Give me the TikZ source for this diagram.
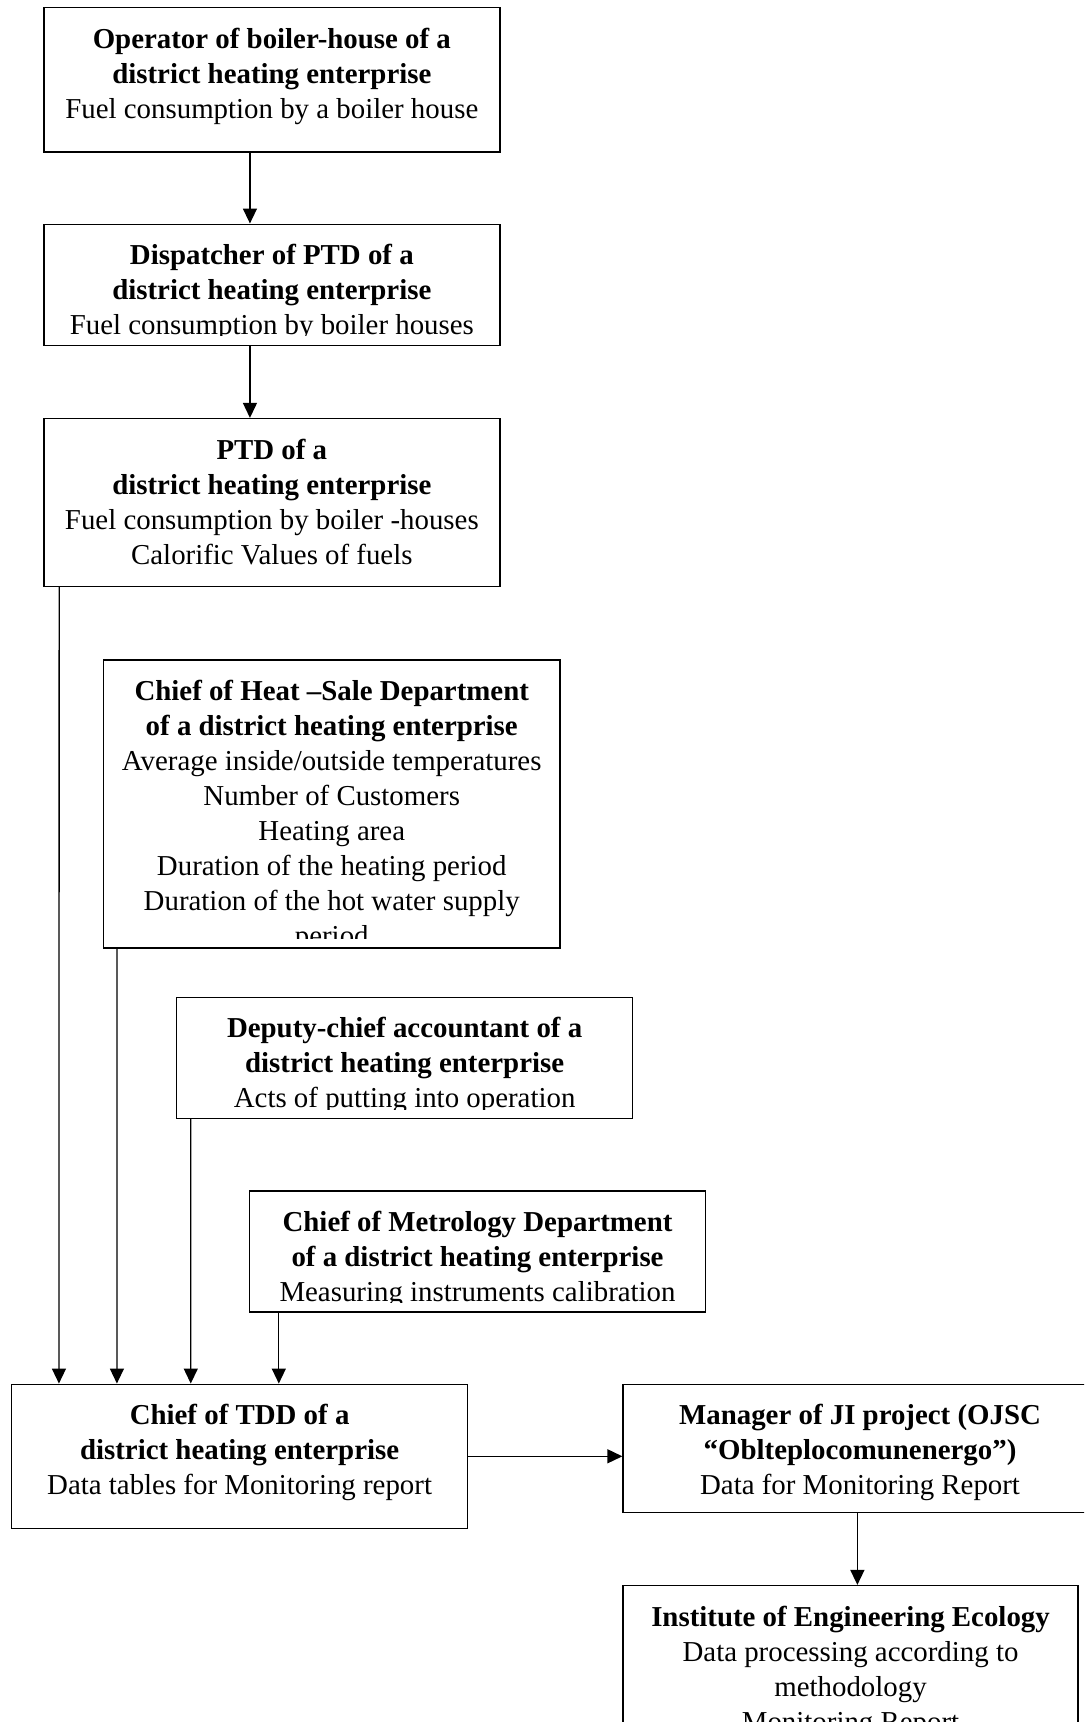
\documentclass[tikz,border=0pt]{standalone}
\usepackage{fontspec}
\setmainfont{Liberation Serif}
\usetikzlibrary{positioning}
\usetikzlibrary{arrows.meta}

\begin{document}
\begin{tikzpicture}[line width=0.55pt,
  box/.style={draw,line width=0.6pt,minimum width=189.6pt,minimum height=#1,inner sep=0pt},
  txt/.style={align=center,inner sep=0pt,font=\fontsize{12}{14.55}\selectfont},
  arr/.style={-{Triangle[length=6.2pt,width=5.8pt]}}]
  \useasboundingbox (0,0) rectangle (450.6pt,-715.8pt);
  \clip (0,0) rectangle (450.6pt,-715.8pt);

  % frames
  \node[box=59.9pt,anchor=north west]  (oper)   at (17.9pt,-2.9pt) {};
  \node[box=50.3pt,below=29.5pt of oper]                  (disp)   {};
  \node[box=69.8pt,below=29.9pt of disp]                  (ptd)    {};
  \node[box=119.7pt,below=29.9pt of ptd,xshift=24.9pt]    (heat)   {};
  \node[box=50.3pt,below=20pt of heat,xshift=30.3pt]      (deputy) {};
  \node[box=50.3pt,below=29.5pt of deputy,xshift=30.3pt]  (metro)  {};
  \node[box=59.9pt,below=29.5pt of metro,xshift=-98.9pt]  (tdd)    {};
  \node[box=53.2pt,minimum width=197pt,right=64pt of tdd.north east,anchor=north west] (mgr) {};
  \node[box=104pt,minimum width=189.1pt,below=29.9pt of mgr.south west,anchor=north west] (inst) {};

  % texts
  \node[txt,below=8.4pt of oper.north] (oper-t)
    {\textbf{Operator of boiler-house of a}\\\textbf{district heating enterprise}\\Fuel consumption by a boiler house};
  \begin{scope}
    \clip (disp.north west) rectangle ([yshift=4.2pt]disp.south east);
    \node[txt,below=8.4pt of disp.north] (disp-t)
      {\textbf{Dispatcher of PTD of a}\\\textbf{district heating enterprise}\\Fuel consumption by boiler houses};
  \end{scope}
  \node[txt,below=8.4pt of ptd.north] (ptd-t)
    {\textbf{PTD of a}\\\textbf{district heating enterprise}\\Fuel consumption by boiler -houses\\Calorific Values of fuels};
  \begin{scope}
    \clip (heat.north west) rectangle ([yshift=4.2pt]heat.south east);
    \node[txt,below=8.4pt of heat.north] (heat-t)
      {\textbf{Chief of Heat –Sale Department}\\\textbf{of a district heating enterprise}\\Average inside/outside temperatures\\Number of Customers\\Heating area\\Duration of the heating period\\Duration of the hot water supply\\period};
  \end{scope}
  \begin{scope}
    \clip (deputy.north west) rectangle ([yshift=4.2pt]deputy.south east);
    \node[txt,below=8.4pt of deputy.north] (deputy-t)
      {\textbf{Deputy-chief accountant of a}\\\textbf{district heating enterprise}\\Acts of putting into operation};
  \end{scope}
  \begin{scope}
    \clip (metro.north west) rectangle ([yshift=4.2pt]metro.south east);
    \node[txt,below=8.4pt of metro.north] (metro-t)
      {\textbf{Chief of Metrology Department}\\\textbf{of a district heating enterprise}\\Measuring instruments calibration};
  \end{scope}
  \node[txt,below=8.4pt of tdd.north] (tdd-t)
    {\textbf{Chief of TDD of a}\\\textbf{district heating enterprise}\\Data tables for Monitoring report};
  \node[txt,below=8.4pt of mgr.north] (mgr-t)
    {\textbf{Manager of JI project (OJSC}\\\textbf{“Oblteplocomunenergo”)}\\Data for Monitoring Report};
  \node[txt,below=8.4pt of inst.north] (inst-t)
    {\textbf{Institute of Engineering Ecology}\\Data processing according to\\methodology\\Monitoring Report};

  % connectors
  \draw[arr] ([xshift=-9.1pt]oper.south) -- ([xshift=-9.1pt]disp.north);
  \draw[arr] ([xshift=-9.1pt]disp.south) -- ([xshift=-9.1pt]ptd.north);
  \draw[arr] ([xshift=6.7pt]ptd.south west) -- ([xshift=20pt]tdd.north west);
  \draw[arr] ([xshift=5.8pt]heat.south west) -- ([xshift=44.1pt]tdd.north west);
  \draw[arr] ([xshift=6.2pt]deputy.south west) -- ([xshift=74.8pt]tdd.north west);
  \draw[arr] ([xshift=12.5pt]metro.south west) -- ([xshift=111.4pt]tdd.north west);
  \draw[arr] (tdd.east) -- (tdd.east -| mgr.west);
  \draw[arr] ([xshift=97.7pt]mgr.south west) -- ([xshift=97.7pt]inst.north west);
\end{tikzpicture}
\end{document}
